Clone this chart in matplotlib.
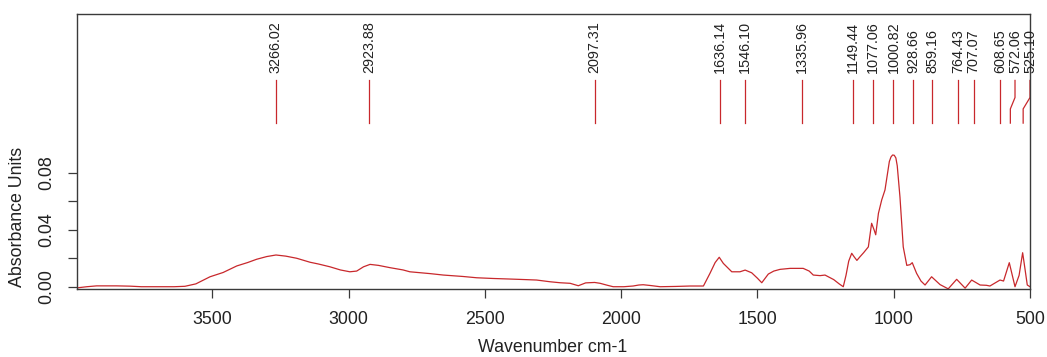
import matplotlib
matplotlib.use('Agg')
import matplotlib.pyplot as plt

plt.rcParams['font.family'] = ['Liberation Sans', 'DejaVu Sans']

# ---------------- data ----------------
wavenumber = [3996, 3960, 3924, 3850, 3801, 3760, 3700, 3640, 3600, 3560, 3508, 3460, 3410,
              3370, 3337, 3300, 3266, 3230, 3190, 3141, 3111, 3068, 3030, 2995, 2970, 2945,
              2921, 2890, 2848, 2800, 2775, 2700, 2652, 2580, 2530, 2470, 2408, 2350, 2310,
              2261, 2224, 2187, 2157, 2130, 2097, 2077, 2050, 2029, 1990, 1956, 1935, 1919,
              1890, 1857, 1800, 1747, 1698, 1674, 1655, 1640, 1625, 1594, 1564, 1545, 1521,
              1500, 1484, 1460, 1440, 1417, 1380, 1332, 1310, 1295, 1270, 1252, 1220, 1200,
              1185, 1175, 1165, 1154, 1145, 1135, 1124, 1110, 1093, 1081, 1072, 1066, 1056,
              1044, 1032, 1024, 1016, 1010, 1004, 998, 992, 987, 977, 965, 952, 940, 932,
              916, 900, 885, 861, 830, 800, 769, 738, 714, 683, 660, 647, 625, 610, 597,
              576, 555, 540, 527, 518, 510, 500]
absorbance = [-0.0008, 0.0000, 0.0006, 0.0006, 0.0004, 0.0000, 0.0000, 0.0000, 0.0003, 0.0020,
              0.0070, 0.0100, 0.0146, 0.0170, 0.0193, 0.0212, 0.0223, 0.0215, 0.0200, 0.0172,
              0.0160, 0.0140, 0.0118, 0.0105, 0.0110, 0.0140, 0.0157, 0.0150, 0.0134, 0.0118,
              0.0105, 0.0092, 0.0082, 0.0072, 0.0063, 0.0058, 0.0054, 0.0050, 0.0047, 0.0035,
              0.0028, 0.0024, 0.0007, 0.0027, 0.0030, 0.0024, 0.0010, 0.0000, 0.0000, 0.0005,
              0.0012, 0.0014, 0.0008, 0.0000, 0.0002, 0.0005, 0.0005, 0.0094, 0.0170, 0.0207,
              0.0164, 0.0105, 0.0105, 0.0117, 0.0098, 0.0060, 0.0028, 0.0089, 0.0110, 0.0122,
              0.0129, 0.0129, 0.0110, 0.0082, 0.0078, 0.0082, 0.0050, 0.0020, 0.0000, 0.0080,
              0.0180, 0.0235, 0.0210, 0.0185, 0.0210, 0.0240, 0.0280, 0.0446, 0.0400, 0.0365,
              0.0516, 0.0610, 0.0680, 0.0780, 0.0880, 0.0912, 0.0926, 0.0924, 0.0905, 0.0850,
              0.0630, 0.0280, 0.0150, 0.0155, 0.0169, 0.0094, 0.0040, 0.0012, 0.0070, 0.0015,
              -0.0015, 0.0052, -0.0010, 0.0047, 0.0012, 0.0010, 0.0005, 0.0030, 0.0047, 0.0040,
              0.0169, 0.0000, 0.0080, 0.0239, 0.0120, 0.0012, 0.0000]

peaks = [3266.02, 2923.88, 2097.31, 1636.14, 1546.10, 1335.96, 1149.44, 1077.06,
         1000.82, 928.66, 859.16, 764.43, 707.07, 608.65, 572.06, 525.10]
# where the label sits (shifted for the last two to avoid overlap)
label_at = [3266.02, 2923.88, 2097.31, 1636.14, 1546.10, 1335.96, 1149.44, 1077.06,
            1000.82, 928.66, 859.16, 764.43, 707.07, 608.65, 555.0, 500.0]

x_ticks = [3500, 3000, 2500, 2000, 1500, 1000, 500]
y_ticks = [0.00, 0.02, 0.04, 0.06, 0.08]
y_ticklabels = ['0.00', '', '0.04', '', '0.08']

RED = '#c8282c'
FRAME = '#3a3a3a'
TXT = '#222222'

W, H = 1047, 357
fig = plt.figure(figsize=(W / 100, H / 100), dpi=100)
L, R, T, B = 77, 1030, 14, 289
ax = fig.add_axes([L / W, 1 - B / H, (R - L) / W, (B - T) / H])

ax.plot(wavenumber, absorbance, color=RED, lw=0.9)

for p, lp in zip(peaks, label_at):
    if p == lp:
        ax.plot([p, p], [0.115, 0.145], color=RED, lw=0.9)
    else:
        ax.plot([p, p, lp, lp], [0.115, 0.125, 0.133, 0.145], color=RED, lw=0.9,
                clip_on=False)
    ax.text(lp, 0.1505, f"{p:.2f}", rotation=90, ha='center', va='bottom',
            fontsize=10.4, color=TXT, clip_on=False)

ax.set_xlim(3996, 500)
ax.set_ylim(-0.0016, 0.1917)
ax.set_xticks(x_ticks)
ax.set_xticklabels([str(v) for v in x_ticks])
ax.set_yticks(y_ticks)
ax.set_yticklabels(y_ticklabels)

for s in ax.spines.values():
    s.set_color(FRAME)
    s.set_linewidth(1.0)

ax.tick_params(axis='both', length=6.5, width=0.9, color=FRAME, labelsize=12.8,
               labelcolor=TXT)
ax.tick_params(axis='x', pad=9)
ax.tick_params(axis='y', pad=9, labelrotation=90)
for lab in ax.get_yticklabels():
    lab.set_va('center')

fig.text(553 / W, 1 - 348 / H, 'Wavenumber cm-1', ha='center', va='center',
         fontsize=12.8, color=TXT)
fig.text(18 / W, 1 - 217 / H, 'Absorbance Units', ha='center', va='center',
         rotation=90, fontsize=12.8, color=TXT)

fig.savefig('out.png', dpi=100)
